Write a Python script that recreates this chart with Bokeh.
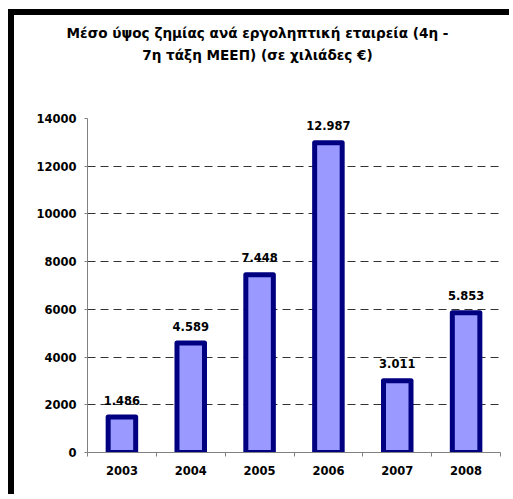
from bokeh.plotting import figure
from bokeh.models import Range1d, FixedTicker, ColumnDataSource, Div, Spacer
from bokeh.layouts import row, column
from bokeh.core.properties import value
from bokeh.embed import file_html
from bokeh.resources import INLINE

years = ["2003", "2004", "2005", "2006", "2007", "2008"]
losses = [1486, 4589, 7448, 12987, 3011, 5853]
value_labels = ["1.486", "4.589", "7.448", "12.987", "3.011", "5.853"]
y_ticks = [0, 2000, 4000, 6000, 8000, 10000, 12000, 14000]
title_line1 = "Μέσο ύψος ζημίας ανά εργοληπτική εταιρεία (4η -"
title_line2 = "7η τάξη ΜΕΕΠ) (σε χιλιάδες €)"

FONT = "DejaVu Sans"
BORDER = 6
INNER_W = 495          # chart area right of the black border
TITLE_H = 60
FIG_H = 419

xpos = [i + 0.5 for i in range(len(years))]
src = ColumnDataSource(dict(x=xpos, top=losses, lbl=value_labels))

p = figure(width=INNER_W, height=FIG_H, output_backend="svg", toolbar_location=None,
           x_range=Range1d(0, len(years)), y_range=Range1d(0, 14000),
           min_border_left=73, min_border_right=INNER_W - 73 - 413, min_border_top=43,
           min_border_bottom=FIG_H - 43 - 334, margin=0)
p.outline_line_color = None
p.background_fill_color = "white"
p.border_fill_color = "white"

p.vbar(x="x", top="top", width=0.40, bottom=0, source=src,
       fill_color="#9999FF", line_color="#000080", line_width=5, line_join="round")

p.text(x="x", y="top", text="lbl", source=src, text_align="center",
       text_baseline="alphabetic", y_offset=-17,
       text_font=value(FONT), text_font_style="bold", text_font_size="11.5px",
       text_color="black")

# axes
p.xaxis.ticker = FixedTicker(ticks=xpos, minor_ticks=list(range(len(years) + 1)))
p.xaxis.major_label_overrides = {x: y for x, y in zip(xpos, years)}
p.xaxis.major_tick_out = 0
p.xaxis.major_tick_in = 0
p.xaxis.minor_tick_out = 4
p.xaxis.minor_tick_in = 0
p.xaxis.minor_tick_line_color = "#808080"
p.xaxis.axis_line_color = "#808080"
p.xaxis.major_label_standoff = 9

p.yaxis.ticker = FixedTicker(ticks=y_ticks)
p.yaxis.major_tick_out = 3
p.yaxis.major_tick_in = 0
p.yaxis.minor_tick_line_color = None
p.yaxis.major_tick_line_color = "#808080"
p.yaxis.axis_line_color = "#808080"
p.yaxis.major_label_standoff = 8

for ax in (p.xaxis, p.yaxis):
    ax.major_label_text_font = FONT
    ax.major_label_text_font_style = "bold"
    ax.major_label_text_font_size = "11.5px"
    ax.major_label_text_color = "black"

p.xgrid.grid_line_color = None
p.ygrid.ticker = FixedTicker(ticks=y_ticks[1:])
p.ygrid.grid_line_color = "#333333"
p.ygrid.grid_line_dash = "8 5"
p.ygrid.grid_line_width = 1

title = Div(text=title_line1 + "<br>" + title_line2, width=INNER_W - 8, height=TITLE_H, margin=0,
            styles={"font-family": FONT, "font-weight": "bold", "font-size": "13.6px",
                    "line-height": "22px", "text-align": "center", "padding-top": "7px",
                    "white-space": "nowrap", "color": "black", "box-sizing": "border-box"})

top_bar = Spacer(width=BORDER + INNER_W, height=BORDER, margin=0,
                 styles={"background-color": "black"})
left_bar = Spacer(width=BORDER, height=TITLE_H + FIG_H, margin=0,
                  styles={"background-color": "black"})

layout = column(
    Spacer(width=10, height=9, margin=0),
    row(Spacer(width=8, height=BORDER, margin=0), top_bar, spacing=0, margin=0),
    row(Spacer(width=8, height=10, margin=0), left_bar,
        column(title, p, spacing=0, margin=0), spacing=0, margin=0),
    spacing=0, margin=0)

open("out.html", "w").write(file_html(layout, INLINE))
